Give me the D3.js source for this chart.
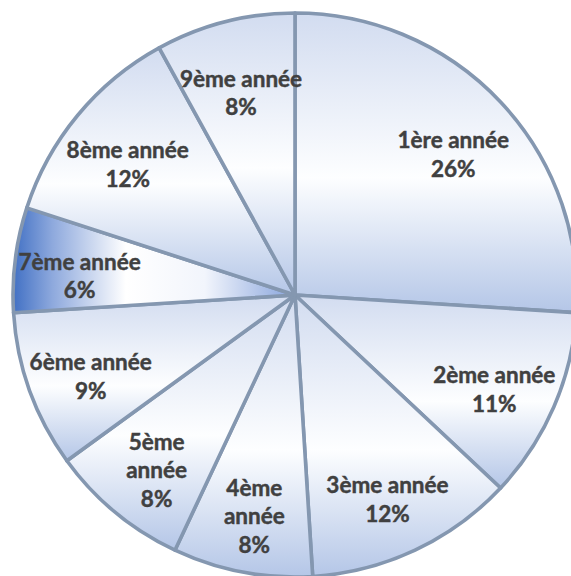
<!DOCTYPE html>
<html>
<head>
<meta charset="utf-8">
<script src="https://cdn.jsdelivr.net/npm/d3@7"></script>
<style>
  html, body { margin: 0; padding: 0; background: #fff; }
  svg { display: block; }
</style>
</head>
<body>
<div class="pie-chart"></div>
<script>
const categories = ['1ère année', '2ème année', '3ème année', '4ème année', '5ème année',
    '6ème année', '7ème année', '8ème année', '9ème année'];
const values = [26, 11, 12, 8, 8, 9, 6, 12, 8];

// style choices
const highlighted = '7ème année';
const wrapped = ['4ème année', '5ème année'];

const width = 571;
const height = 576;
const cx = 295, cy = 295;
const radius = 282;

const data = categories.map((c, i) => ({name: c, value: values[i]}));

const svg = d3.select('.pie-chart')
    .append('svg')
    .attr('width', width)
    .attr('height', height);

const defs = svg.append('defs');

// normal slices: vertical gradient inside each slice box
const grad = defs.append('linearGradient')
    .attr('id', 'slice-grad')
    .attr('x1', 0).attr('y1', 0)
    .attr('x2', 0).attr('y2', 1);
grad.append('stop').attr('offset', 0).attr('stop-color', '#d2dcf0');
grad.append('stop').attr('offset', 0.55).attr('stop-color', '#fdfeff');
grad.append('stop').attr('offset', 1).attr('stop-color', '#b4c6e7');

// highlighted slice: stronger horizontal gradient
const hgrad = defs.append('linearGradient')
    .attr('id', 'slice-grad-hl')
    .attr('x1', 0).attr('y1', 0)
    .attr('x2', 1).attr('y2', 0);
hgrad.append('stop').attr('offset', 0).attr('stop-color', '#4170c4');
hgrad.append('stop').attr('offset', 0.14).attr('stop-color', '#8ea9dd');
hgrad.append('stop').attr('offset', 0.4).attr('stop-color', '#ffffff');
hgrad.append('stop').attr('offset', 0.68).attr('stop-color', '#f2f5fc');
hgrad.append('stop').attr('offset', 1).attr('stop-color', '#86a3dc');

const pie = d3.pie()
    .value(d => d.value)
    .sort(null);

const arc = d3.arc()
    .innerRadius(0)
    .outerRadius(radius);

const labelArc = d3.arc()
    .innerRadius(radius * 0.77)
    .outerRadius(radius * 0.77);

const arcs = pie(data);

const g = svg.append('g')
    .attr('transform', `translate(${cx},${cy})`);

g.selectAll('path')
    .data(arcs)
    .enter()
    .append('path')
    .attr('d', arc)
    .attr('fill', d => d.data.name === highlighted ? 'url(#slice-grad-hl)' : 'url(#slice-grad)')
    .attr('stroke', '#8497b0')
    .attr('stroke-width', 3.6)
    .attr('stroke-linejoin', 'round');

const fontSize = 22.5;
const lineHeight = 28.5;

g.selectAll('.label')
    .data(arcs)
    .enter()
    .append('text')
    .attr('class', 'label')
    .attr('text-anchor', 'middle')
    .attr('font-family', 'Lato, "Open Sans", sans-serif')
    .attr('font-weight', 'bold')
    .attr('font-size', fontSize)
    .attr('fill', '#404040')
    .attr('stroke', '#404040')
    .attr('stroke-width', 0.45)
    .each(function(d) {
        const t = d3.select(this);
        const [x, y] = labelArc.centroid(d);
        const lines = wrapped.includes(d.data.name)
            ? d.data.name.split(' ').concat([d.data.value + '%'])
            : [d.data.name, d.data.value + '%'];
        const y0 = y + 8 - (lines.length - 1) / 2 * lineHeight + fontSize * 0.36;
        lines.forEach((s, i) => {
            t.append('tspan')
                .attr('x', x)
                .attr('y', y0 + i * lineHeight)
                .text(s);
        });
    });
</script>
</body>
</html>
